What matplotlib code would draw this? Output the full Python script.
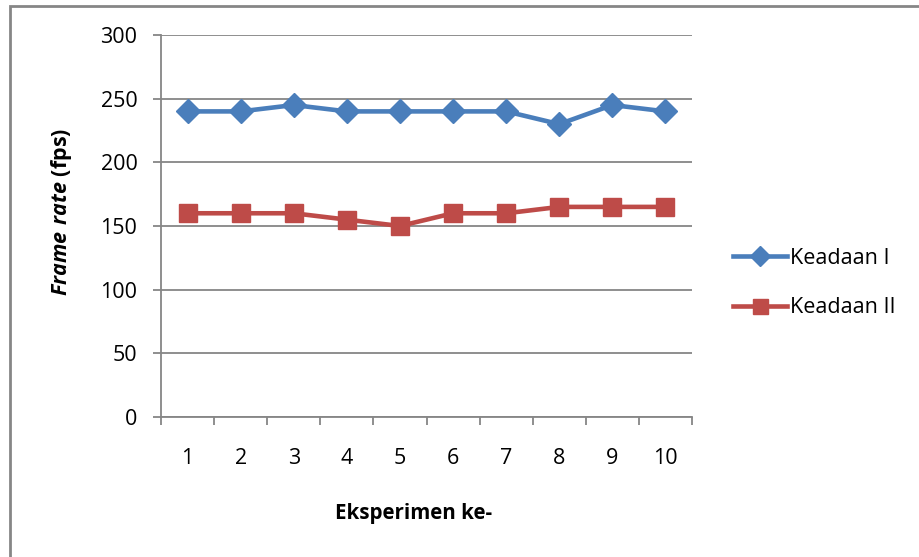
import matplotlib
matplotlib.use("Agg")
import matplotlib.pyplot as plt
from matplotlib.patches import Rectangle

plt.rcParams['font.family'] = ['Open Sans', 'DejaVu Sans']
plt.rcParams['mathtext.fontset'] = 'custom'
plt.rcParams['mathtext.bfit'] = 'Open Sans:italic:bold'
plt.rcParams['mathtext.rm'] = 'Open Sans:bold'

experiments = [1, 2, 3, 4, 5, 6, 7, 8, 9, 10]
keadaan_1 = [240, 240, 245, 240, 240, 240, 240, 230, 245, 240]
keadaan_2 = [160, 160, 160, 155, 150, 160, 160, 165, 165, 165]
y_ticks = [0, 50, 100, 150, 200, 250, 300]

blue = "#4A7EBB"
red = "#BE4B48"
gray = "#868686"
fs = 15.5

fig = plt.figure(figsize=(9.2, 5.57), dpi=100)
ax = fig.add_axes([161 / 920, 1 - 417 / 557, 531 / 920, 382 / 557])

ax.plot(experiments, keadaan_1, color=blue, lw=3.3, marker="D", ms=12.5,
        label="Keadaan I")
ax.plot(experiments, keadaan_2, color=red, lw=3.3, marker="s", ms=13.5,
        label="Keadaan II")

ax.set_xlim(0.5, 10.5)
ax.set_ylim(0, 300)
ax.set_yticks(y_ticks)
ax.yaxis.grid(True, color=gray, lw=1.3)
ax.set_axisbelow(True)

# category boundaries as major ticks, labels on centres as minor ticks
ax.set_xticks([e - 0.5 for e in experiments] + [experiments[-1] + 0.5])
ax.set_xticklabels([])
ax.set_xticks(experiments, minor=True)
ax.set_xticklabels([str(e) for e in experiments], minor=True)
ax.tick_params(axis="x", which="major", length=6, width=1.3, color=gray)
ax.tick_params(axis="x", which="minor", length=0, pad=22, labelsize=fs)
ax.tick_params(axis="y", length=6, width=1.3, color=gray, pad=11, labelsize=fs)

for s in ["top", "right"]:
    ax.spines[s].set_visible(False)
for s in ["left", "bottom"]:
    ax.spines[s].set_color(gray)
    ax.spines[s].set_linewidth(1.3)

fig.text(62 / 920, 1 - 212 / 557, r"$\mathbfit{Frame\ rate}$ (fps)",
         rotation=90, ha="center", va="center", fontsize=fs, fontweight="bold")
fig.text(414 / 920, 1 - 514 / 557, "Eksperimen ke-", ha="center", va="center",
         fontsize=14.8, fontweight="bold")

leg = ax.legend(loc="center left", bbox_to_anchor=(733 / 920, 1 - 283 / 557),
                bbox_transform=fig.transFigure, frameon=False, fontsize=fs,
                handlelength=2.5, handletextpad=0.15, labelspacing=1.33,
                borderaxespad=0, borderpad=0, markerscale=0.8)

fig.patches.append(Rectangle((10 / 920, -0.1), 1.0, 1 - 5.5 / 557 + 0.1,
                             transform=fig.transFigure, fill=False,
                             edgecolor=gray, lw=2, figure=fig))

fig.savefig("out.png", dpi=100)
